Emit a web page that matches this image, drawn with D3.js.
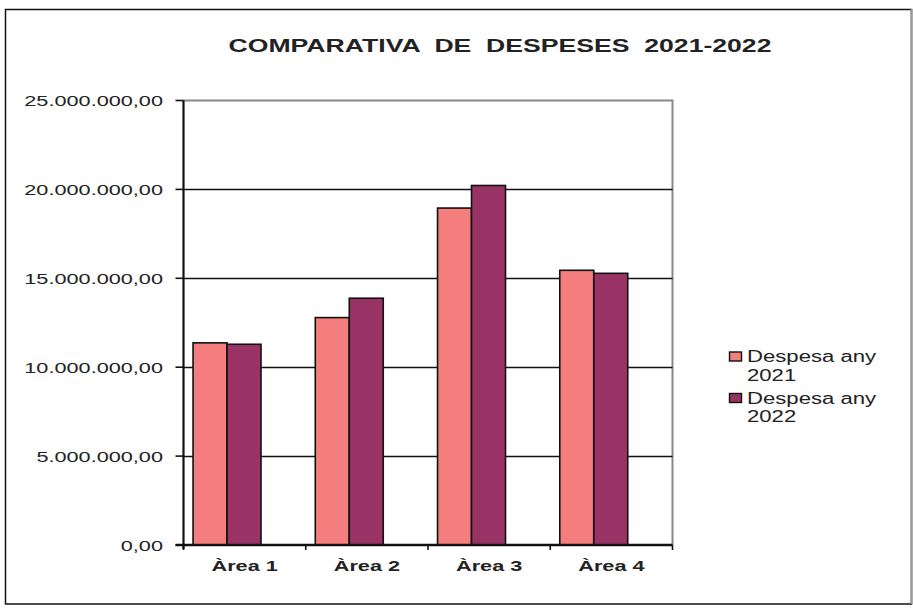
<!DOCTYPE html>
<html><head><meta charset="utf-8">
<script src="https://cdn.jsdelivr.net/npm/d3@7"></script>
<style>body{margin:0;background:#fff}svg{display:block}text{font-family:"Liberation Sans",Arial,sans-serif;fill:#222}</style>
</head><body>
<script>
const title = "COMPARATIVA  DE  DESPESES  2021-2022";
const categories = ["Àrea 1","Àrea 2","Àrea 3","Àrea 4"];
const seriesNames = ["Despesa any 2021","Despesa any 2022"];
const legendLines = [["Despesa any","2021"],["Despesa any","2022"]];
const values2021 = [11370000, 12790000, 18950000, 15450000];
const values2022 = [11290000, 13880000, 20220000, 15280000];
const yTicks = [0,5000000,10000000,15000000,20000000,25000000];
const colors = ["#F47E7E","#993366"];

const W=913,H=608, SX=1.4;
const svg=d3.select("body").append("svg").attr("width",W).attr("height",H);
svg.append("rect").attr("x",0).attr("y",0).attr("width",W).attr("height",H).attr("fill","#fff");
// outer border
svg.append("rect").attr("x",5.5).attr("y",9.5).attr("width",906).attr("height",594.5)
  .attr("fill","none").attr("stroke","#111").attr("stroke-width",1.5);
svg.append("line").attr("x1",911.5).attr("x2",911.5).attr("y1",9).attr("y2",604).attr("stroke","#999").attr("stroke-width",2);

function stext(x,y,str,size,weight,anchor){
  return svg.append("text").attr("transform",`translate(${x},${y}) scale(${SX},1)`)
    .attr("text-anchor",anchor).attr("font-size",size).attr("font-weight",weight).text(str);
}
stext(500,52,title,19,"bold","middle").style("white-space","pre").attr("xml:space","preserve");

const L=183.5,R=672.5,T=100.5,B=545;
const x=d3.scaleBand().domain(categories).range([L,R]);
const y=d3.scaleLinear().domain([0,25000000]).range([B,T]);

// plot frame (top/right grey)
svg.append("path").attr("d",`M${L},${T}H${R}V${B}`).attr("fill","none").attr("stroke","#888").attr("stroke-width",2);
// gridlines
svg.append("g").selectAll("line").data(yTicks.filter(d=>d>0&&d<25000000)).join("line")
  .attr("x1",L).attr("x2",R).attr("y1",d=>Math.round(y(d))+0.5).attr("y2",d=>Math.round(y(d))+0.5)
  .attr("stroke","#111").attr("stroke-width",1.6);

// bars
const bw=x.bandwidth();
const series=[values2021,values2022];
series.forEach((vals,si)=>{
  svg.append("g").selectAll("rect").data(categories).join("rect")
    .attr("x",(c)=>x(c)+bw*0.078+si*bw*0.278)
    .attr("width",bw*0.278)
    .attr("y",(c,i)=>y(vals[i]))
    .attr("height",(c,i)=>B-y(vals[i]))
    .attr("fill",colors[si]).attr("stroke","#111").attr("stroke-width",1.6);
});

// y axis
svg.append("line").attr("x1",L).attr("x2",L).attr("y1",T).attr("y2",B+4).attr("stroke","#111").attr("stroke-width",2.2);
svg.append("g").selectAll("line").data(yTicks).join("line")
  .attr("x1",L-8).attr("x2",L).attr("y1",d=>y(d)).attr("y2",d=>y(d)).attr("stroke","#111").attr("stroke-width",1.6);
const fmt=d=>d3.format(",.2f")(d).replace(/,/g,"#").replace(".",",").replace(/#/g,".");
yTicks.forEach(t=>stext(163,y(t)+5.5,fmt(t),15.5,"normal","end"));

// x axis
svg.append("line").attr("x1",L-8).attr("x2",R).attr("y1",B).attr("y2",B).attr("stroke","#111").attr("stroke-width",2.4);
const xt=categories.map(c=>x(c)).concat([R]);
svg.append("g").selectAll("line").data(xt).join("line")
  .attr("x1",d=>d).attr("x2",d=>d).attr("y1",B).attr("y2",B+5).attr("stroke","#111").attr("stroke-width",1.6);
categories.forEach(c=>stext(x(c)+bw/2,571,c,15.5,"bold","middle"));

// legend
legendLines.forEach((ln,i)=>{
  const y0=362+i*41.5;
  svg.append("rect").attr("x",729.5).attr("y",y0-10).attr("width",12).attr("height",9)
    .attr("fill",colors[i]).attr("stroke","#111").attr("stroke-width",1.4);
  stext(747,y0,ln[0],15.8,"normal","start");
  stext(747,y0+18.5,ln[1],15.8,"normal","start");
});
</script>
</body></html>
